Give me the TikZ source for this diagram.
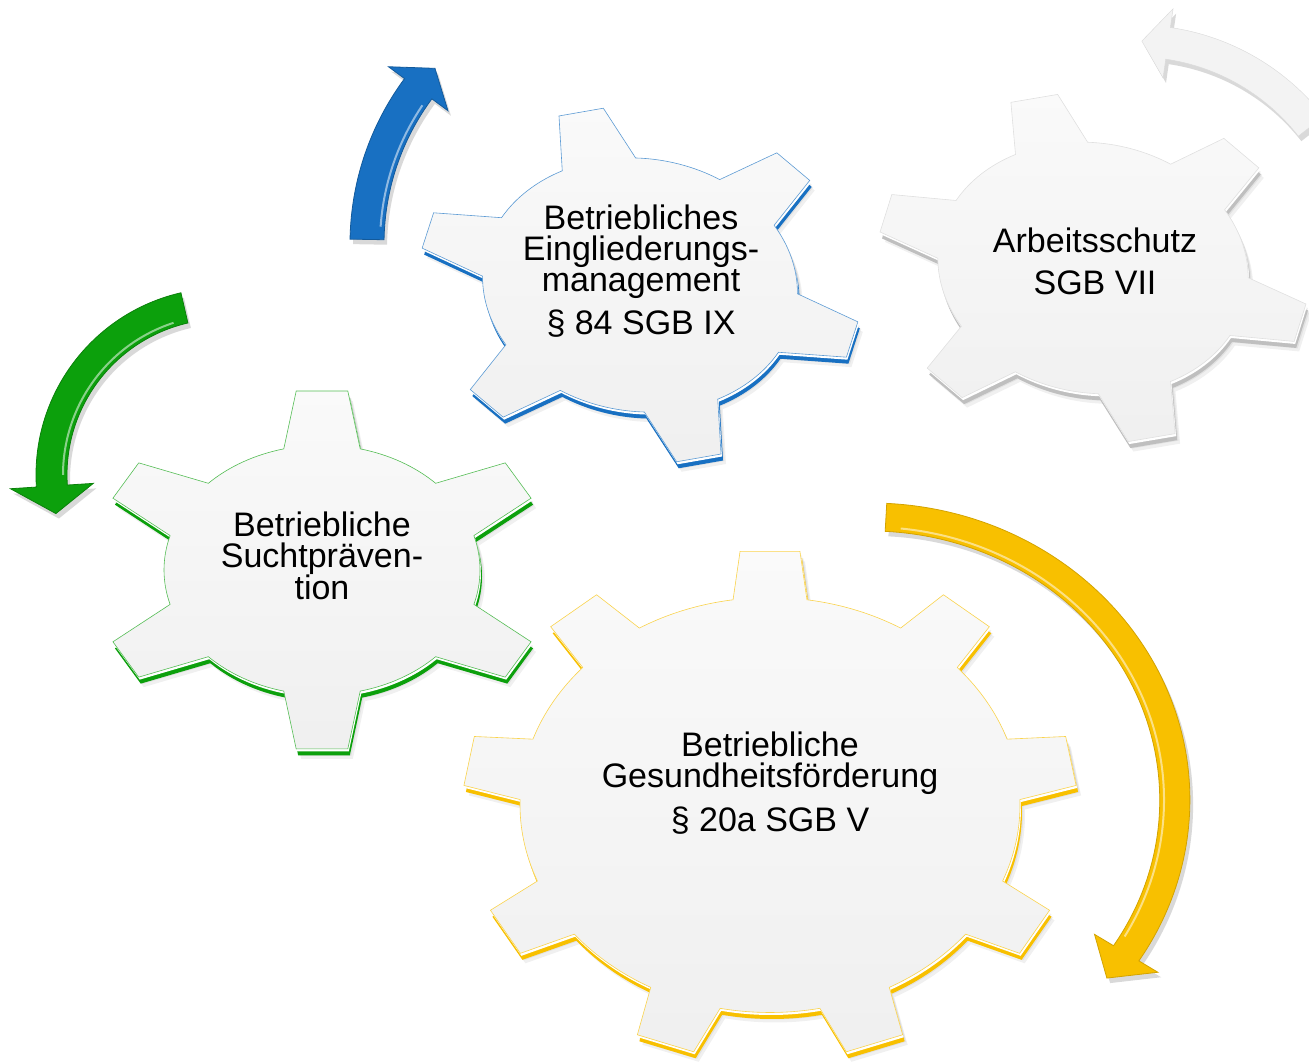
\documentclass[tikz,border=0pt]{standalone}
\usepackage{fontspec}
\setmainfont{Liberation Sans}

\definecolor{bemblue}{RGB}{24,112,194}
\definecolor{suchtgreen}{RGB}{12,160,12}
\definecolor{bgfyellow}{RGB}{248,192,0}
\definecolor{asgray}{RGB}{243,243,243}

% gear outline: teeth, root radius, tip radius, phase, tip half-angle, root half-angle
\newcommand{\gearpath}[6]{%
  ({#4-#6}:#2)
  \foreach \gi in {1,...,#1}{
    -- ({#4+(\gi-1)*360/#1-#6}:#2)
    -- ({#4+(\gi-1)*360/#1-#5}:#3)
    -- ({#4+(\gi-1)*360/#1+#5}:#3)
    -- ({#4+(\gi-1)*360/#1+#6}:#2)
    arc[start angle={#4+(\gi-1)*360/#1+#6}, end angle={#4+\gi*360/#1-#6}, radius=#2]
  } -- cycle}

% curved block arrow: inner r, outer r, tail angle, head angle, tip angle, barb
\newcommand{\bentarrow}[6]{%
  (#3:#2) arc[start angle=#3, end angle=#4, radius=#2]
  -- (#4:{#2+#6}) -- (#5:{(#1+#2)/2}) -- (#4:{#1-#6}) -- (#4:#1)
  arc[start angle=#4, end angle=#3, radius=#1] -- cycle}

\begin{document}
\begin{tikzpicture}[x=1pt, y=1pt,
    cog face/.style={top color=black!2, bottom color=black!6},
    cog bevel/.style={fill=white, xshift=1, yshift=-2.5},
    cog edge/.style={fill=#1, xshift=2, yshift=-6.5},
    cog shadow/.style={fill=black, opacity=0.06},
    cog label/.style={align=center, font=\fontsize{34}{31}\selectfont},
    arrow shadow/.style={fill=black, opacity=0.15, xshift=3, yshift=-5},
    shine/.style={draw=#1, line width=2, opacity=0.8},
    bem pos/.style={shift={(640,777)}, rotate=-8, yscale=0.8},
    as pos/.style={shift={(1093,794)}, rotate=-10, yscale=0.8},
    sucht pos/.style={shift={(322,492)}, yscale=0.79},
    bgf pos/.style={shift={(770,257)}, yscale=0.83},
  ]
  \useasboundingbox (0,0) rectangle (1309,1062);

  % blue arrow
  \begin{scope}[shift={(628,818)}]
    \fill[arrow shadow] \bentarrow{244}{278}{179}{143.5}{137.7}{20};
    \fill[bemblue, draw=bemblue!80!black, line width=0.8] \bentarrow{244}{278}{179}{143.5}{137.7}{20};
    \draw[shine=bemblue!35!white] (176:248) arc[start angle=176, end angle=146, radius=248];
  \end{scope}

  % green arrow
  \begin{scope}[shift={(223,587)}]
    \fill[arrow shadow] \bentarrow{156}{187}{103}{183.7}{193}{26};
    \fill[suchtgreen, draw=suchtgreen!80!black, line width=0.8] \bentarrow{156}{187}{103}{183.7}{193}{26};
    \draw[shine=suchtgreen!35!white] (108:160) arc[start angle=108, end angle=180, radius=160];
  \end{scope}

  % grey arrow
  \begin{scope}[shift={(1136,799)}]
    \fill[arrow shadow] \bentarrow{206}{238}{38}{81.7}{88.5}{19};
    \fill[asgray, draw=black!15] \bentarrow{206}{238}{38}{81.7}{88.5}{19};
  \end{scope}

  % yellow arrow
  \begin{scope}[shift={(870,262)}, xscale=1.077]
    \fill[arrow shadow] \bentarrow{269}{297}{87}{-32.8}{-39}{21};
    \fill[bgfyellow, draw=bgfyellow!85!black, line width=0.8] \bentarrow{269}{297}{87}{-32.8}{-39}{21};
    \draw[shine=bgfyellow!35!white] (84:273) arc[start angle=84, end angle=-30, radius=273];
  \end{scope}

  % soft shadows under the gears
  \foreach \d in {4,7,10}{
    \fill[cog shadow, xshift=0.5*\d, yshift=-\d, bem pos] \gearpath{6}{158}{221}{-8}{6}{14};
    \fill[cog shadow, xshift=0.5*\d, yshift=-\d, as pos] \gearpath{6}{156}{216}{-6}{6.5}{14};
    \fill[cog shadow, xshift=0.5*\d, yshift=-\d, sucht pos] \gearpath{6}{158}{228}{30}{6.5}{14};
    \fill[cog shadow, xshift=0.5*\d, yshift=-\d, bgf pos] \gearpath{9}{250}{307}{90}{5.6}{8.5};
  }

  % Eingliederungsmanagement
  \fill[cog edge=bemblue, bem pos] \gearpath{6}{158}{221}{-8}{6}{14};
  \fill[cog bevel, bem pos] \gearpath{6}{158}{221}{-8}{6}{14};
  \shade[cog face, draw=bemblue!70, line width=0.6, bem pos] \gearpath{6}{158}{221}{-8}{6}{14};

  % Arbeitsschutz
  \fill[cog edge=black!25, as pos] \gearpath{6}{156}{216}{-6}{6.5}{14};
  \fill[cog bevel, as pos] \gearpath{6}{156}{216}{-6}{6.5}{14};
  \shade[cog face, draw=black!12, line width=0.6, as pos] \gearpath{6}{156}{216}{-6}{6.5}{14};

  % Suchtpraevention
  \fill[cog edge=suchtgreen, sucht pos] \gearpath{6}{158}{228}{30}{6.5}{14};
  \fill[cog bevel, sucht pos] \gearpath{6}{158}{228}{30}{6.5}{14};
  \shade[cog face, draw=suchtgreen!70, line width=0.6, sucht pos] \gearpath{6}{158}{228}{30}{6.5}{14};

  % Gesundheitsfoerderung
  \fill[cog edge=bgfyellow, bgf pos] \gearpath{9}{250}{307}{90}{5.6}{8.5};
  \fill[cog bevel, bgf pos] \gearpath{9}{250}{307}{90}{5.6}{8.5};
  \shade[cog face, draw=bgfyellow!70, line width=0.6, bgf pos] \gearpath{9}{250}{307}{90}{5.6}{8.5};

  \node[cog label] (bem) at (641,791)
    {Betriebliches\\Eingliederungs-\\management\\[11pt]\S\ 84 SGB IX};
  \node[cog label] (arbeit) at (1095,801) {Arbeitsschutz\\[11pt]SGB VII};
  \node[cog label] (sucht) at (322,506) {Betriebliche\\Suchtpräven-\\tion};
  \node[cog label] (bgf) at (770,279)
    {Betriebliche\\Gesundheitsförderung\\[11pt]\S\ 20a SGB V};
\end{tikzpicture}
\end{document}
